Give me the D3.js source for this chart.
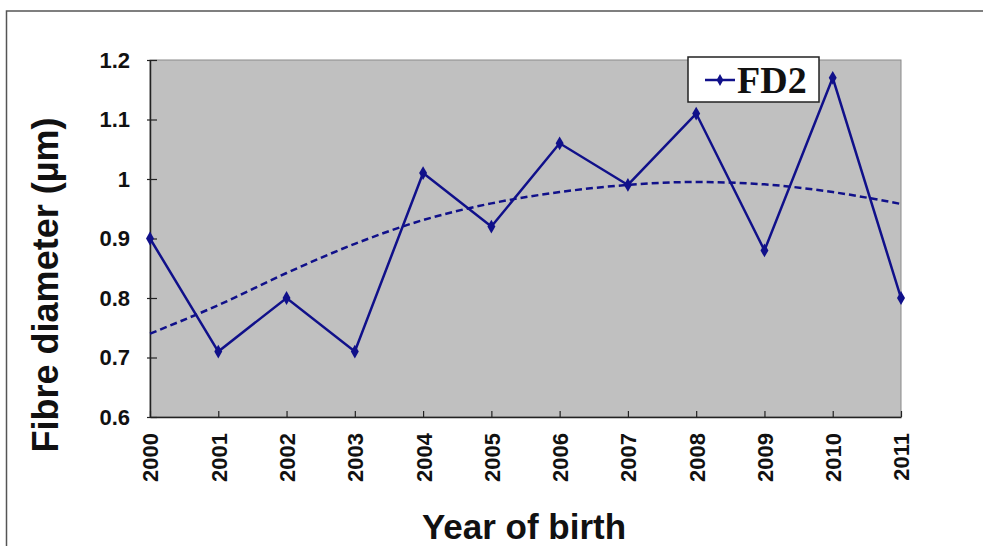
<!DOCTYPE html>
<html>
<head>
<meta charset="utf-8">
<script src="https://cdn.jsdelivr.net/npm/d3@7"></script>
<style>
  body { margin: 0; background: #fff; }
  svg { display: block; }
</style>
</head>
<body>
<svg id="chart"></svg>
<script>
// years on the x axis
var years = ["2000", "2001", "2002", "2003", "2004", "2005",
             "2006", "2007", "2008", "2009", "2010", "2011"];

// FD2 values
var fd2 = [0.90, 0.71, 0.80, 0.71, 1.01, 0.92, 1.06, 0.99, 1.11, 0.88, 1.17, 0.80];

// dashed trend line at each year
var trend = [0.740, 0.788, 0.842, 0.891, 0.931, 0.959, 0.978, 0.990, 0.995, 0.991, 0.978, 0.958];

var yTicks = [0.6, 0.7, 0.8, 0.9, 1.0, 1.1, 1.2];

var W = 983, H = 546;
var margin = {top: 60, right: 82, bottom: 129, left: 150};
var width = W - margin.left - margin.right,
    height = H - margin.top - margin.bottom;

var navy = "#10108a";

var svg = d3.select("#chart")
  .attr("width", W)
  .attr("height", H);

// outer frame (cropped at right and bottom)
svg.append("rect")
  .attr("x", 6.5).attr("y", 11)
  .attr("width", W + 10).attr("height", H + 10)
  .attr("fill", "none")
  .attr("stroke", "#555")
  .attr("stroke-width", 1.5);

var g = svg.append("g")
  .attr("transform", "translate(" + margin.left + "," + margin.top + ")");

var x = d3.scalePoint()
  .domain(years)
  .range([0, width])
  .padding(0);

var y = d3.scaleLinear()
  .domain([0.6, 1.2])
  .range([height, 0]);

// plot area
g.append("rect")
  .attr("width", width)
  .attr("height", height)
  .attr("fill", "#c0c0c0")
  .attr("stroke", "#8a8a8a")
  .attr("stroke-width", 1);

// y axis
var yAxis = g.append("g")
  .call(d3.axisLeft(y).tickValues(yTicks).tickSizeInner(-7).tickSizeOuter(0)
    .tickFormat(d => d3.format("")(+d.toFixed(1))));
yAxis.select(".domain").attr("stroke", "#222").attr("stroke-width", 1.5);
yAxis.selectAll(".tick line").attr("stroke", "#222").attr("stroke-width", 1.2)
  .attr("x1", -3);
yAxis.selectAll(".tick text")
  .attr("font-family", "Liberation Sans, Arial, sans-serif")
  .attr("font-weight", "bold")
  .attr("font-size", 22)
  .attr("fill", "#111")
  .attr("x", -20);

// x axis
var xAxis = g.append("g")
  .attr("transform", "translate(0," + height + ")")
  .call(d3.axisBottom(x).tickSizeInner(-6).tickSizeOuter(0));
xAxis.select(".domain").attr("stroke", "#222").attr("stroke-width", 1.5);
xAxis.selectAll(".tick line").attr("stroke", "#222").attr("stroke-width", 1.2);
xAxis.selectAll(".tick text")
  .attr("font-family", "Liberation Sans, Arial, sans-serif")
  .attr("font-weight", "bold")
  .attr("font-size", 22)
  .attr("fill", "#111")
  .attr("transform", "rotate(-90)")
  .attr("text-anchor", "end")
  .attr("x", -16)
  .attr("y", 0)
  .attr("dy", "0.36em");

// trend line
var trendLine = d3.line()
  .x((d, i) => x(years[i]))
  .y(d => y(d))
  .curve(d3.curveMonotoneX);

g.append("path")
  .datum(trend)
  .attr("d", trendLine)
  .attr("fill", "none")
  .attr("stroke", navy)
  .attr("stroke-width", 2.5)
  .attr("stroke-dasharray", "7,4");

// FD2 series
var line = d3.line()
  .x((d, i) => x(years[i]))
  .y(d => y(d));

g.append("path")
  .datum(fd2)
  .attr("d", line)
  .attr("fill", "none")
  .attr("stroke", navy)
  .attr("stroke-width", 2.5);

var diamond = d3.symbol().type(d3.symbolDiamond).size(55);

g.selectAll(".pt")
  .data(fd2)
  .enter().append("path")
  .attr("class", "pt")
  .attr("d", diamond)
  .attr("transform", (d, i) => "translate(" + x(years[i]) + "," + y(d) + ")")
  .attr("fill", navy);

// axis titles
svg.append("text")
  .attr("transform", "translate(58,285) rotate(-90)")
  .attr("text-anchor", "middle")
  .attr("font-family", "Liberation Sans, Arial, sans-serif")
  .attr("font-weight", "bold")
  .attr("font-size", 36)
  .attr("fill", "#111")
  .text("Fibre diameter (µm)");

svg.append("text")
  .attr("x", 524)
  .attr("y", 539)
  .attr("text-anchor", "middle")
  .attr("font-family", "Liberation Sans, Arial, sans-serif")
  .attr("font-weight", "bold")
  .attr("font-size", 35)
  .attr("fill", "#111")
  .text("Year of birth");

// legend
var legend = svg.append("g").attr("transform", "translate(688,57)");
legend.append("rect")
  .attr("width", 131).attr("height", 45)
  .attr("fill", "#fff")
  .attr("stroke", "#222")
  .attr("stroke-width", 1.5);
legend.append("line")
  .attr("x1", 17).attr("x2", 47)
  .attr("y1", 23).attr("y2", 23)
  .attr("stroke", navy).attr("stroke-width", 2.5);
legend.append("path")
  .attr("d", d3.symbol().type(d3.symbolDiamond).size(40))
  .attr("transform", "translate(32,23)")
  .attr("fill", navy);
legend.append("text")
  .attr("x", 49).attr("y", 36)
  .attr("font-family", "Liberation Serif, Times New Roman, serif")
  .attr("font-weight", "bold")
  .attr("font-size", 38)
  .attr("fill", "#111")
  .text("FD2");
</script>
</body>
</html>
